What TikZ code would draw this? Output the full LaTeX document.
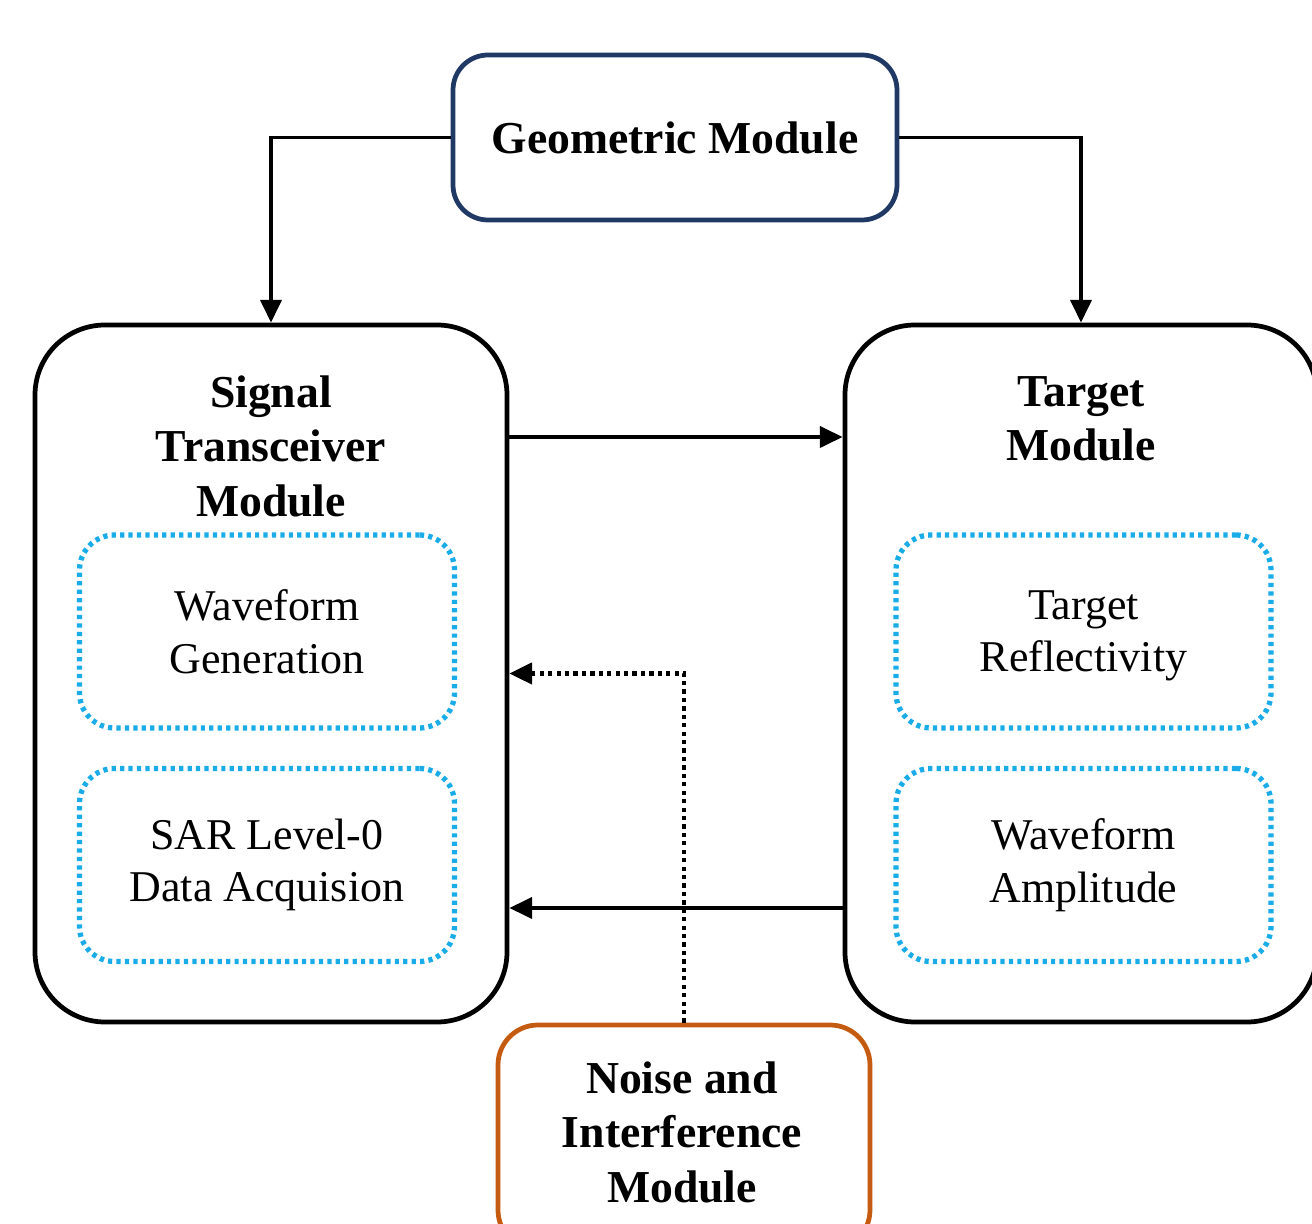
\documentclass[tikz,border=0pt]{standalone}
\usepackage{fontspec}
\setmainfont{Liberation Serif}
\usetikzlibrary{arrows.meta}
\definecolor{geoblue}{HTML}{1F3864}
\definecolor{noiseorange}{HTML}{C55A11}
\definecolor{subcyan}{HTML}{1AACE8}

\begin{document}
\begin{tikzpicture}[
    module/.style={draw,line width=1.35pt,rounded corners=0.7cm,minimum width=4.72cm,minimum height=6.97cm,inner sep=0pt},
    subbox/.style={draw=subcyan,line width=1.5pt,dash pattern=on 1.2pt off 1.2pt,rounded corners=0.35cm,
      minimum width=3.75cm,minimum height=1.93cm,inner sep=0pt,align=center,font=\fontsize{12.5}{15}\selectfont},
    title/.style={align=center,font=\fontsize{13}{15.5}\selectfont\bfseries},
    link/.style={line width=1.1pt,-{Triangle[length=6.5pt,width=6pt]}}]
  \useasboundingbox (0,0) rectangle (13.12,-12.24);
  % modules
  \node[module,draw=geoblue,rounded corners=0.35cm,minimum width=4.44cm,minimum height=1.65cm] (geo) at (6.75,-1.375) {};
  \node[module] (sig) at (2.71,-6.735) {};
  \node[module] (tgt) at (10.81,-6.735) {};
  \node[module,draw=noiseorange,rounded corners=0.4cm,minimum width=3.72cm,minimum height=2.25cm] (noise) at (6.84,-11.375) {};
  \node[title] (geotitle) at (geo) {Geometric Module};
  \node[title] (sigtitle) at (2.71,-4.46) {Signal\\Transceiver\\Module};
  \node[title] (tgttitle) at (10.81,-4.19) {Target\\Module};
  \node[title] (noisetitle) at (6.82,-11.32) {Noise and\\Interference\\Module};
  % sub-blocks
  \node[subbox] (wave) at (2.67,-6.315) {Waveform\\Generation};
  \node[subbox] (sar) at (2.67,-8.65) {SAR Level-0\\Data Acquision};
  \node[subbox] (refl) at (10.835,-6.315) {};
  \node[subbox,draw=none] (refltext) at (10.835,-6.36) {Target\\Reflectivity};
  \node[subbox] (amp) at (10.835,-8.65) {Waveform\\Amplitude};
  % connections
  \begin{scope}[link]
    \draw (geo.west) -| (sig.north);
    \draw (geo.east) -| (tgt.north);
    \draw ([yshift=2.365cm]sig.east) -- ([yshift=2.365cm]tgt.west);
    \draw ([yshift=-2.345cm]tgt.west) -- ([yshift=-2.345cm]sig.east);
    \draw[line width=1.3pt,dash pattern=on 1.2pt off 1.2pt] (noise.north) |- (sig.east);
  \end{scope}
\end{tikzpicture}
\end{document}
